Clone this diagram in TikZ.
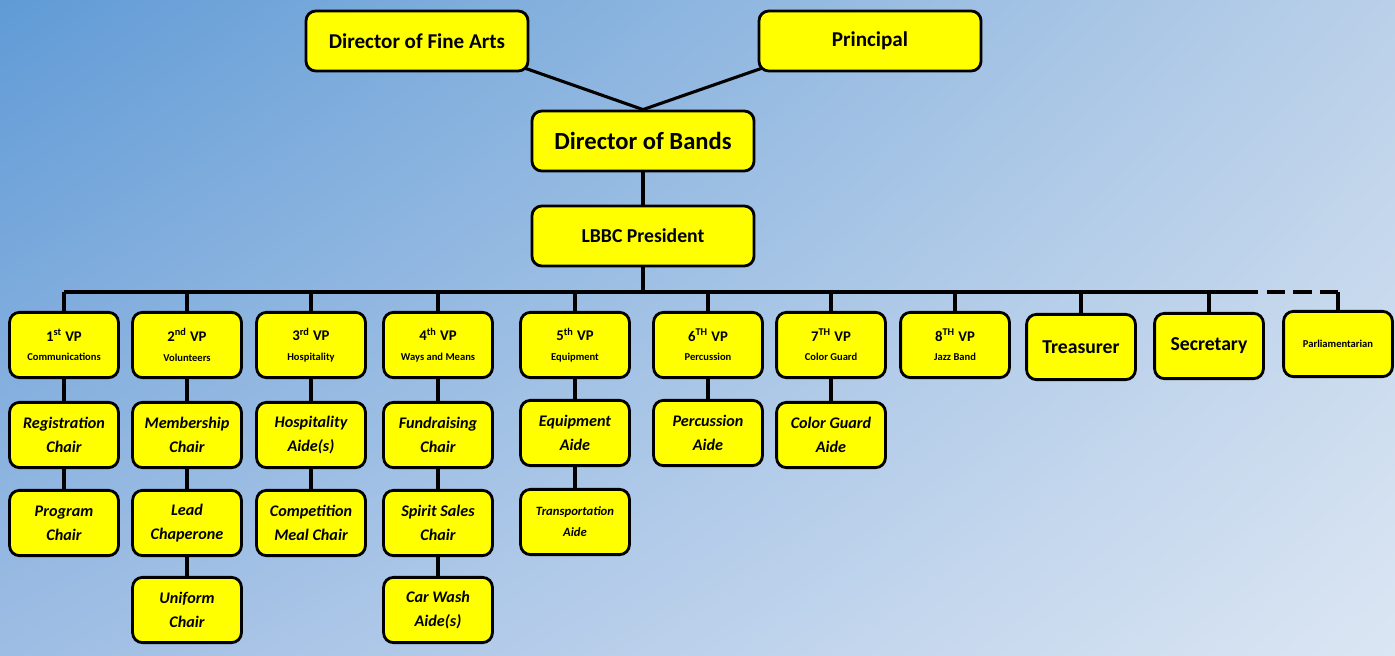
\documentclass[tikz,border=0pt]{standalone}
\usepackage{fontspec}
\setmainfont{Carlito}
\usetikzlibrary{shadings}
\pgfdeclarelayer{bg}
\pgfdeclarelayer{wires}
\pgfsetlayers{bg,wires,main}

\begin{document}
\begin{tikzpicture}[x=0.025cm, y=-0.025cm,
    box/.style={draw=black, line width=2pt, fill=boxyellow, rounded corners=7pt,
        align=center, inner sep=1pt},
    headbox/.style={box, minimum width=5.55cm, minimum height=1.5cm},
    vpbox/.style={box, minimum width=2.72cm, minimum height=1.63cm,
        font=\fontsize{10.5}{13}\selectfont\bfseries},
    chairbox/.style={vpbox, font=\fontsize{11.5}{17}\selectfont\bfseries\itshape},
    wire/.style={line width=2.2pt, black}]
    % Define colors
    \definecolor{boxyellow}{RGB}{255,255,0}
    \definecolor{bgtl}{RGB}{96,155,214}
    \definecolor{bgtr}{RGB}{186,208,233}
    \definecolor{bgbl}{RGB}{158,189,228}
    \definecolor{bgbr}{RGB}{219,230,243}

    % Parameters
    \def\vprow{345}    % y of the VP row
    \def\subfont{\fontsize{7.5}{9}\selectfont}

    % Background
    \begin{pgfonlayer}{bg}
        \shade[upper left=bgtl, upper right=bgtr, lower left=bgbl, lower right=bgbr]
            (0,0) rectangle (1395,656);
    \end{pgfonlayer}

    % Top of the chart
    \node[headbox, font=\fontsize{15}{18}\selectfont\bfseries] (fine) at (417,41) {Director of Fine Arts};
    \node[headbox, font=\fontsize{15}{18}\selectfont\bfseries] (principal) at (870,41) {Principal};
    \node[headbox, font=\fontsize{17.5}{20}\selectfont\bfseries] (bands) at (643,141) {Director of Bands};
    \node[headbox, font=\fontsize{14}{17}\selectfont\bfseries] (pres) at (643,236) {LBBC President};

    % Vice presidents
    \foreach \name/\x/\num/\ord/\area in {vp1/64/1/st/Communications, vp2/187/2/nd/Volunteers,
        vp3/311/3/rd/Hospitality, vp4/438/4/th/Ways and Means, vp5/575/5/th/Equipment,
        vp6/708/6/TH/Percussion, vp7/831/7/TH/Color Guard, vp8/955/8/TH/Jazz Band} {
        \node[vpbox] (\name) at (\x,\vprow) {\num\textsuperscript{\ord} VP\\[1pt]{\subfont \area}};
    }
    \node[vpbox, font=\fontsize{14}{17}\selectfont\bfseries] (treas) at (1081,347) {Treasurer};
    \node[vpbox, font=\fontsize{14}{17}\selectfont\bfseries] (sec) at (1209,346) {Secretary};
    \node[vpbox, font=\subfont\bfseries] (parl) at (1338,344) {Parliamentarian};

    % Chairs and aides
    \foreach \name/\x/\y/\txt in {reg/64/435/Registration\\Chair, prog/64/523/Program\\Chair,
        memb/187/435/Membership\\Chair, lead/187/523/Lead\\Chaperone, unif/187/610/Uniform\\Chair,
        hosp/311/435/Hospitality\\Aide(s), comp/311/523/Competition\\Meal Chair,
        fund/438/435/Fundraising\\Chair, spirit/438/523/Spirit Sales\\Chair, carwash/438/610/Car Wash\\Aide(s),
        equip/575/433/Equipment\\Aide, perc/708/433/Percussion\\Aide, cg/831/435/Color Guard\\Aide} {
        \node[chairbox] (\name) at (\x,\y) {\txt};
    }
    \node[chairbox, font=\fontsize{9}{15}\selectfont\bfseries\itshape] (trans) at (575,522) {Transportation\\Aide};

    % Connectors
    \begin{pgfonlayer}{wires}
        \coordinate (bus) at (0,292);
        \coordinate (dashfrom) at (1240,292);
        \draw[wire] ([xshift=-6pt,yshift=4pt]fine.south east) -- (bands.north);
        \draw[wire] ([xshift=6pt,yshift=4pt]principal.south west) -- (bands.north);
        \draw[wire] (bands) -- (pres);
        \draw[wire] (pres) -- (pres |- bus);
        \draw[wire] (vp1 |- bus) -- (dashfrom);
        \draw[wire, dash pattern=on 13pt off 6pt] (dashfrom) -- (parl |- bus);
        \draw[wire] (parl |- bus) -- (parl);
        \foreach \n in {vp1,vp2,vp3,vp4,vp5,vp6,vp7,vp8,treas,sec} {
            \draw[wire] (\n |- bus) -- (\n);
        }
        \foreach \a/\b in {vp1/reg, reg/prog, vp2/memb, memb/lead, lead/unif, vp3/hosp, hosp/comp,
            vp4/fund, fund/spirit, spirit/carwash, vp5/equip, equip/trans, vp6/perc, vp7/cg} {
            \draw[wire] (\a) -- (\a |- \b);
        }
    \end{pgfonlayer}
\end{tikzpicture}
\end{document}
